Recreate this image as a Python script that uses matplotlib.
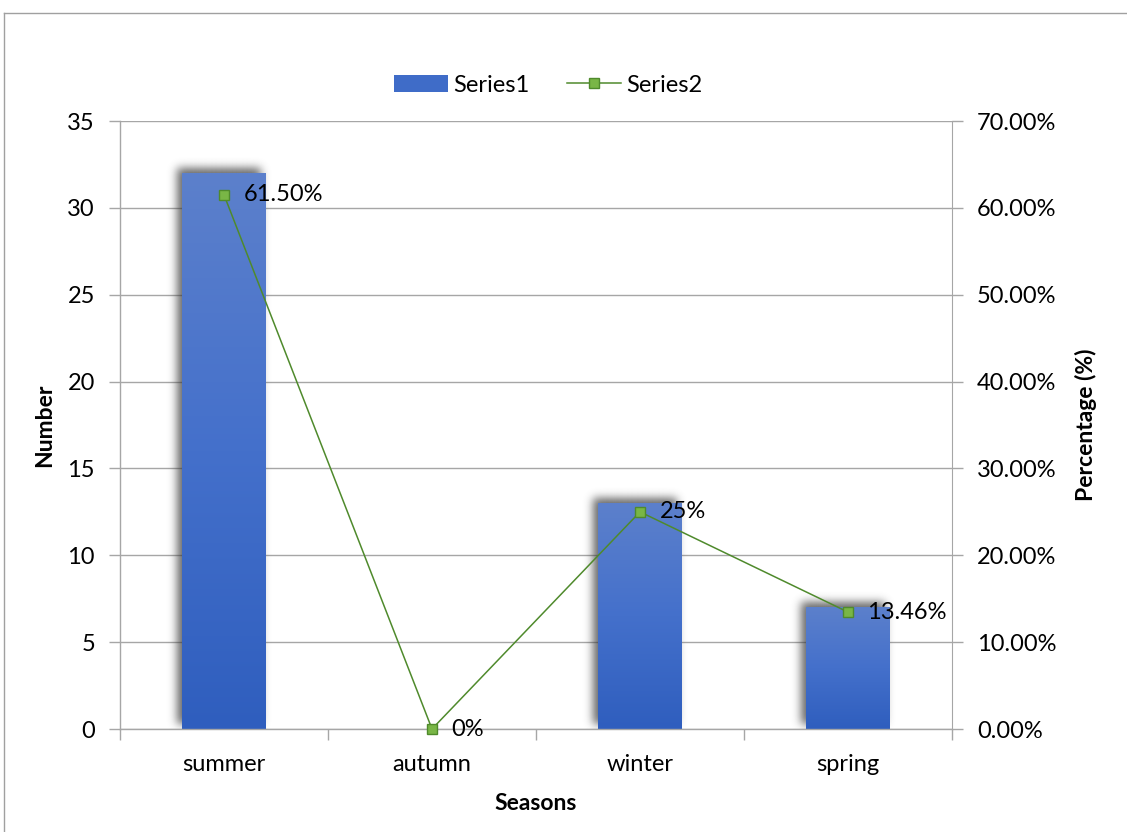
import matplotlib.pyplot as plt
import numpy as np
from matplotlib.lines import Line2D
from matplotlib.patches import Rectangle
from matplotlib.colors import LinearSegmentedColormap

plt.rcParams['font.family'] = ['Lato', 'DejaVu Sans']

seasons = ['summer', 'autumn', 'winter', 'spring']
counts = [32, 0, 13, 7]
percent = [0.615, 0.0, 0.25, 0.1346]
percent_labels = ['61.50%', '0%', '25%', '13.46%']

W, H = 1127, 832
fs = 17
fig = plt.figure(figsize=(W / 100, H / 100), dpi=100)
ax = fig.add_axes([120 / W, 1 - 729 / H, 832 / W, 608 / H])

grid_col = '#a6a6a6'
bar_w = 0.40
x = np.arange(len(seasons))
ymax = 35

ax.set_xlim(-0.5, len(seasons) - 0.5)
ax.set_ylim(0, ymax)

# pixel -> data scale
px_x = 1.0 / 208
px_y = ymax / 608.0

blue_map = LinearSegmentedColormap.from_list('bar', ['#2f5ebe', '#4470cb', '#5c80cc'])


def gauss_blur(img, sigma):
    r = int(3 * sigma)
    k = np.exp(-0.5 * (np.arange(-r, r + 1) / sigma) ** 2)
    k /= k.sum()
    img = np.apply_along_axis(lambda m: np.convolve(m, k, mode='same'), 0, img)
    img = np.apply_along_axis(lambda m: np.convolve(m, k, mode='same'), 1, img)
    return img


for xi, v in zip(x, counts):
    if v <= 0:
        continue
    # soft drop shadow up-left of each bar
    bw_px = int(round(bar_w * 208))
    bh_px = int(round(v / px_y))
    m = 24
    mask = np.zeros((bh_px + 2 * m, bw_px + 2 * m))
    off = 5
    mask[m - off:m - off + bh_px, m - off:m - off + bw_px] = 1.0
    mask = gauss_blur(mask, 4.5)
    rgba = np.zeros(mask.shape + (4,))
    rgba[..., :3] = 0.2
    rgba[..., 3] = mask * 0.75
    left = xi - bar_w / 2 - m * px_x
    right = xi + bar_w / 2 + m * px_x
    top = v + m * px_y
    bottom = -m * px_y
    ax.imshow(rgba, extent=(left, right, bottom, top), origin='upper',
              aspect='auto', zorder=1.5, interpolation='bilinear', clip_on=True)

    # gradient filled bar
    rect = Rectangle((xi - bar_w / 2, 0), bar_w, v, facecolor='none',
                     edgecolor='none', zorder=2)
    ax.add_patch(rect)
    grad = np.linspace(0, 1, 256).reshape(-1, 1)
    im = ax.imshow(grad, extent=(xi - bar_w / 2, xi + bar_w / 2, 0, v),
                   origin='lower', aspect='auto', cmap=blue_map, zorder=2,
                   interpolation='bilinear')
    im.set_clip_path(rect)

ax.set_xlim(-0.5, len(seasons) - 0.5)
ax.set_ylim(0, ymax)

ax.set_yticks(np.arange(0, 36, 5))
ax.yaxis.grid(True, color=grid_col, lw=1.0)
ax.set_axisbelow(True)
ax.set_xticks(x)
ax.set_xticklabels(seasons)
ax.set_xticks(np.arange(-0.5, len(seasons), 1), minor=True)
ax.tick_params(axis='x', which='major', length=0, pad=18, labelsize=fs)
ax.tick_params(axis='x', which='minor', length=8, width=1, color=grid_col, direction='out')
ax.tick_params(axis='y', length=8, width=1, color=grid_col, pad=10, labelsize=fs)

for s in ['top', 'right']:
    ax.spines[s].set_visible(False)
for s in ['left', 'bottom']:
    ax.spines[s].set_color(grid_col)
    ax.spines[s].set_linewidth(1.0)

ax2 = ax.twinx()
ax2.set_ylim(0, 0.70)
ax2.set_yticks(np.arange(0, 0.71, 0.1))
ax2.set_yticklabels(['{:.2f}%'.format(t * 100) for t in np.arange(0, 0.71, 0.1)])
ax2.tick_params(axis='y', length=8, width=1, color=grid_col, pad=10, labelsize=fs)
for s in ['top', 'left', 'bottom']:
    ax2.spines[s].set_visible(False)
ax2.spines['right'].set_color(grid_col)

ax2.plot(x, percent, color='#4f8a2c', lw=1.1, marker='s', markersize=7,
         markerfacecolor='#79b646', markeredgecolor='#4f8a2c', markeredgewidth=1.0,
         zorder=5, clip_on=False)
for xi, p, lab in zip(x, percent, percent_labels):
    ax2.annotate(lab, (xi, p), xytext=(14, 0), textcoords='offset points',
                 ha='left', va='center', fontsize=fs, zorder=6)

# axis titles
fig.text(45 / W, 1 - 425 / H, 'Number', rotation=90, ha='center', va='center',
         fontsize=fs - 0.5, fontweight='bold')
fig.text(1086 / W, 1 - 425 / H, 'Percentage (%)', rotation=90, ha='center', va='center',
         fontsize=fs - 0.5, fontweight='bold')
fig.text(536 / W, 1 - 803 / H, 'Seasons', ha='center', va='center',
         fontsize=fs - 0.5, fontweight='bold')

# legend
h1 = Rectangle((0, 0), 1, 1, facecolor='#3f6cc8', edgecolor='none')
h2 = Line2D([], [], color='#4f8a2c', lw=1.1, marker='s', markersize=7,
            markerfacecolor='#79b646', markeredgecolor='#4f8a2c')
fig.legend([h1, h2], ['Series1', 'Series2'], loc='center', ncol=2,
           bbox_to_anchor=(548 / W, 1 - 85 / H), frameon=False, fontsize=fs,
           handlelength=2.3, handleheight=0.7, columnspacing=1.6, handletextpad=0.2)

# outer border
fig.add_artist(Line2D([4 / W, 4 / W], [0, 1 - 13 / H], transform=fig.transFigure,
                      color='#a0a0a0', lw=1.0))
fig.add_artist(Line2D([4 / W, 1], [1 - 13 / H, 1 - 13 / H], transform=fig.transFigure,
                      color='#a0a0a0', lw=1.0))

fig.savefig('out.png', dpi=100)
